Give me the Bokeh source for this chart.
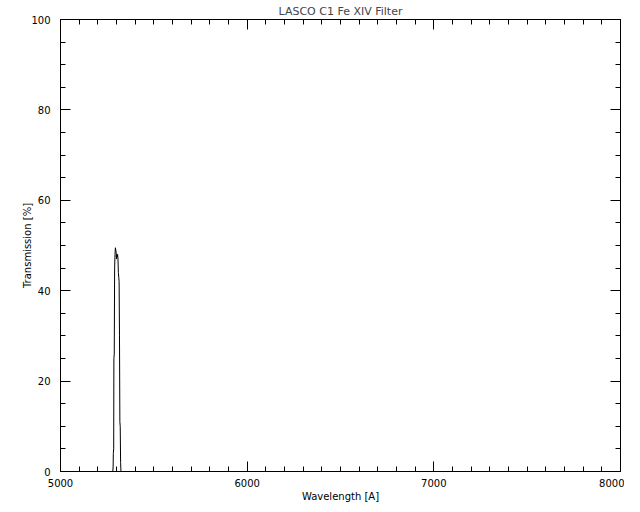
from bokeh.plotting import figure
from bokeh.models import Range1d, LinearAxis, SingleIntervalTicker, CustomJSTickFormatter
from bokeh.embed import file_html
from bokeh.resources import INLINE

# Data
wavelength = [5000, 5270, 5280, 5282, 5283, 5285, 5286, 5288, 5290, 5292, 5294,
              5296, 5298, 5300, 5302, 5304, 5306, 5308, 5310, 5312, 5314, 5316,
              5318, 5320, 5322, 5324, 5330, 5400, 8000]
transmission = [0, 0, 0, 1, 4, 5, 25, 26, 45, 48, 49.5,
                49, 48.5, 47, 48, 47.5, 48, 47, 44, 43, 42, 30,
                11, 10, 2, 0, 0, 0, 0]

title_text = "LASCO C1 Fe XIV Filter"
x_label = "Wavelength [A]"
y_label = "Transmission [%]"

FONT = "DejaVu Sans"

p = figure(width=624, height=504, output_backend="svg", toolbar_location=None,
           x_range=Range1d(5000, 8000), y_range=Range1d(0, 100),
           min_border_left=60, min_border_right=4, min_border_top=12,
           min_border_bottom=33, title=title_text,
           x_axis_label=x_label, y_axis_label=y_label)

p.title.align = "center"
p.title.text_font = FONT
p.title.text_font_size = "11px"
p.title.text_font_style = "normal"
p.title.standoff = 4

p.xgrid.visible = False
p.ygrid.visible = False
p.outline_line_color = "black"
p.background_fill_color = "white"
p.border_fill_color = "white"

xt = SingleIntervalTicker(interval=1000, num_minor_ticks=10)
yt = SingleIntervalTicker(interval=20, num_minor_ticks=4)

def style(ax, labels=True):
    ax.axis_line_color = "black"
    ax.major_tick_line_color = "black"
    ax.minor_tick_line_color = "black"
    ax.major_tick_in = 10
    ax.major_tick_out = 0
    ax.minor_tick_in = 5
    ax.minor_tick_out = 0
    if labels:
        ax.major_label_text_font = FONT
        ax.major_label_text_font_size = "10px"
        ax.major_label_text_color = "black"
        ax.axis_label_text_font = FONT
        ax.axis_label_text_font_size = "10px"
        ax.axis_label_text_font_style = "normal"
        ax.axis_label_text_color = "black"
    else:
        ax.formatter = CustomJSTickFormatter(code="return ''")
        ax.major_label_standoff = 0

p.xaxis.ticker = xt
p.yaxis.ticker = yt
style(p.xaxis[0])
style(p.yaxis[0])
p.xaxis.major_label_standoff = 7
p.xaxis.axis_label_standoff = 1
p.yaxis.major_label_standoff = 10
p.yaxis.axis_label_standoff = -5

top = LinearAxis(ticker=SingleIntervalTicker(interval=1000, num_minor_ticks=10))
style(top, labels=False)
p.add_layout(top, "above")
right = LinearAxis(ticker=SingleIntervalTicker(interval=20, num_minor_ticks=4))
style(right, labels=False)
p.add_layout(right, "right")

p.line(wavelength, transmission, line_color="black", line_width=1)

open("out.html", "w").write(file_html(p, INLINE))
